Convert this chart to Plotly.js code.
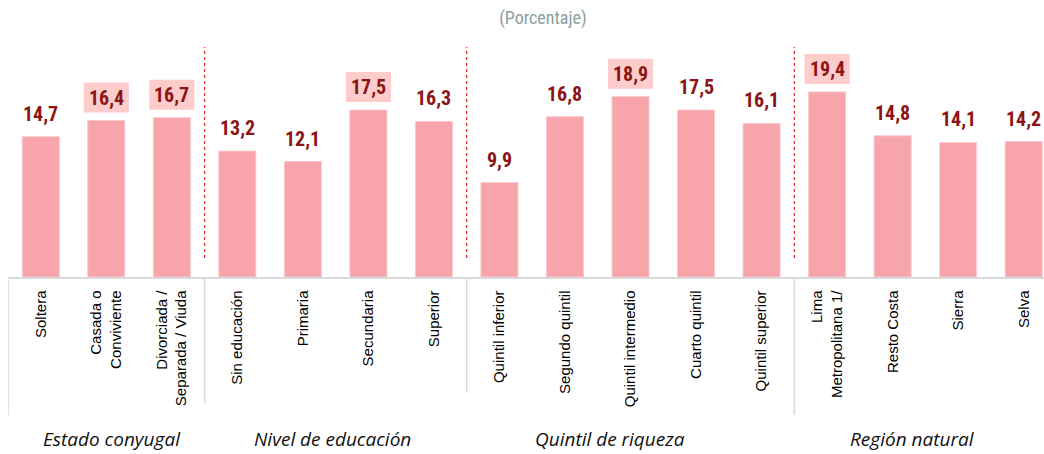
<!DOCTYPE html>
<html>
<head>
<meta charset="utf-8">
<script src="https://cdn.plot.ly/plotly-3.0.1.min.js"></script>
<style>html,body{margin:0;padding:0;background:#fff;}#chart{width:1044px;height:454px;}</style>
</head>
<body>
<div id="chart"></div>
<script>
const categories = ["Soltera","Casada o<br>Conviviente","Divorciada /<br>Separada / Viuda","Sin educación","Primaria","Secundaria","Superior","Quintil inferior","Segundo quintil","Quintil intermedio","Cuarto quintil","Quintil superior","Lima<br>Metropolitana 1/","Resto Costa","Sierra","Selva"];
const values = [14.7,16.4,16.7,13.2,12.1,17.5,16.3,9.9,16.8,18.9,17.5,16.1,19.4,14.8,14.1,14.2];
const highlighted = [0,1,1,0,0,1,0,0,0,1,0,0,1,0,0,0];
const groups = ["Estado conyugal","Nivel de educación","Quintil de riqueza","Región natural"];
const groupSizes = [3,4,5,4];
const titleText = "(Porcentaje)";

const idx = categories.map((c,i)=>i);
const narrow = "'Liberation Sans Narrow', 'Arial Narrow', 'Roboto Condensed', Arial, sans-serif";

const trace = {
  type: 'bar', x: idx, y: values,
  marker: {color: '#F7A4AB', line: {color: '#FBC8CC', width: 1}},
  width: 0.565, hoverinfo: 'none'
};

const shapes = [];
const annotations = [];
values.forEach((v,i)=>{
  if (highlighted[i]) {
    shapes.push({type:'rect', xref:'x', yref:'y', x0:i-0.345, x1:i+0.345, ysizemode:'pixel', yanchor:v, y0:8, y1:38, fillcolor:'#FFCCCC', line:{width:0}, layer:'below'});
  }
  annotations.push({x:i, y:v, xref:'x', yref:'y', yshift:23, yanchor:'middle', showarrow:false,
    text: v.toFixed(1).replace('.', ','), font:{family:narrow, size:20, color:'#8B1414', weight:'bold'}});
});

// group boundaries
let cum = 0;
const sepBottoms = [-0.582, -0.532, -0.489, -0.582];
const labelX = [1.09, 4.45, 8.69, 13.3];
shapes.push({type:'line', xref:'x', yref:'paper', x0:-0.5, x1:-0.5, y0:0, y1:sepBottoms[0], line:{color:'#D9D9D9', width:1.5}});
groupSizes.forEach((n,g)=>{
  cum += n;
  if (g < groupSizes.length-1) {
    const b = cum - 0.5;
    shapes.push({type:'line', xref:'x', yref:'paper', x0:b, x1:b, y0:0.08, y1:0.97, line:{color:'#E02020', width:1.2, dash:'dot'}});
    shapes.push({type:'line', xref:'x', yref:'paper', x0:b, x1:b, y0:0, y1:sepBottoms[g+1], line:{color:'#D9D9D9', width:1.5}});
  }
  annotations.push({x:labelX[g], xref:'x', yref:'paper', y:-0.685, yanchor:'middle', showarrow:false,
    text: groups[g], font:{family:"'Open Sans', sans-serif", size:19, color:'#111', style:'italic'}});
});

const layout = {
  width:1044, height:454,
  margin:{l:8, r:0, t:40, b:177},
  paper_bgcolor:'#fff', plot_bgcolor:'#fff',
  showlegend:false,
  title:{text:titleText, x:0.52, xanchor:'center', y:0.96, yanchor:'middle',
    font:{family:narrow, size:18, color:'#8A9E9E'}},
  xaxis:{range:[-0.5, 15.31], tickvals:idx, ticktext:categories, tickangle:-90,
    showline:true, linecolor:'#D9D9D9', linewidth:1.5, showgrid:false, zeroline:false,
    ticks:'', ticklabelstandoff:6,
    tickfont:{family:"'Liberation Sans', Arial, sans-serif", size:15, color:'#000'}},
  yaxis:{range:[0, 24.84], visible:false, showgrid:false, zeroline:false},
  shapes: shapes,
  annotations: annotations
};
Plotly.newPlot('chart', [trace], layout, {staticPlot:true, displayModeBar:false});
</script>
</body>
</html>
